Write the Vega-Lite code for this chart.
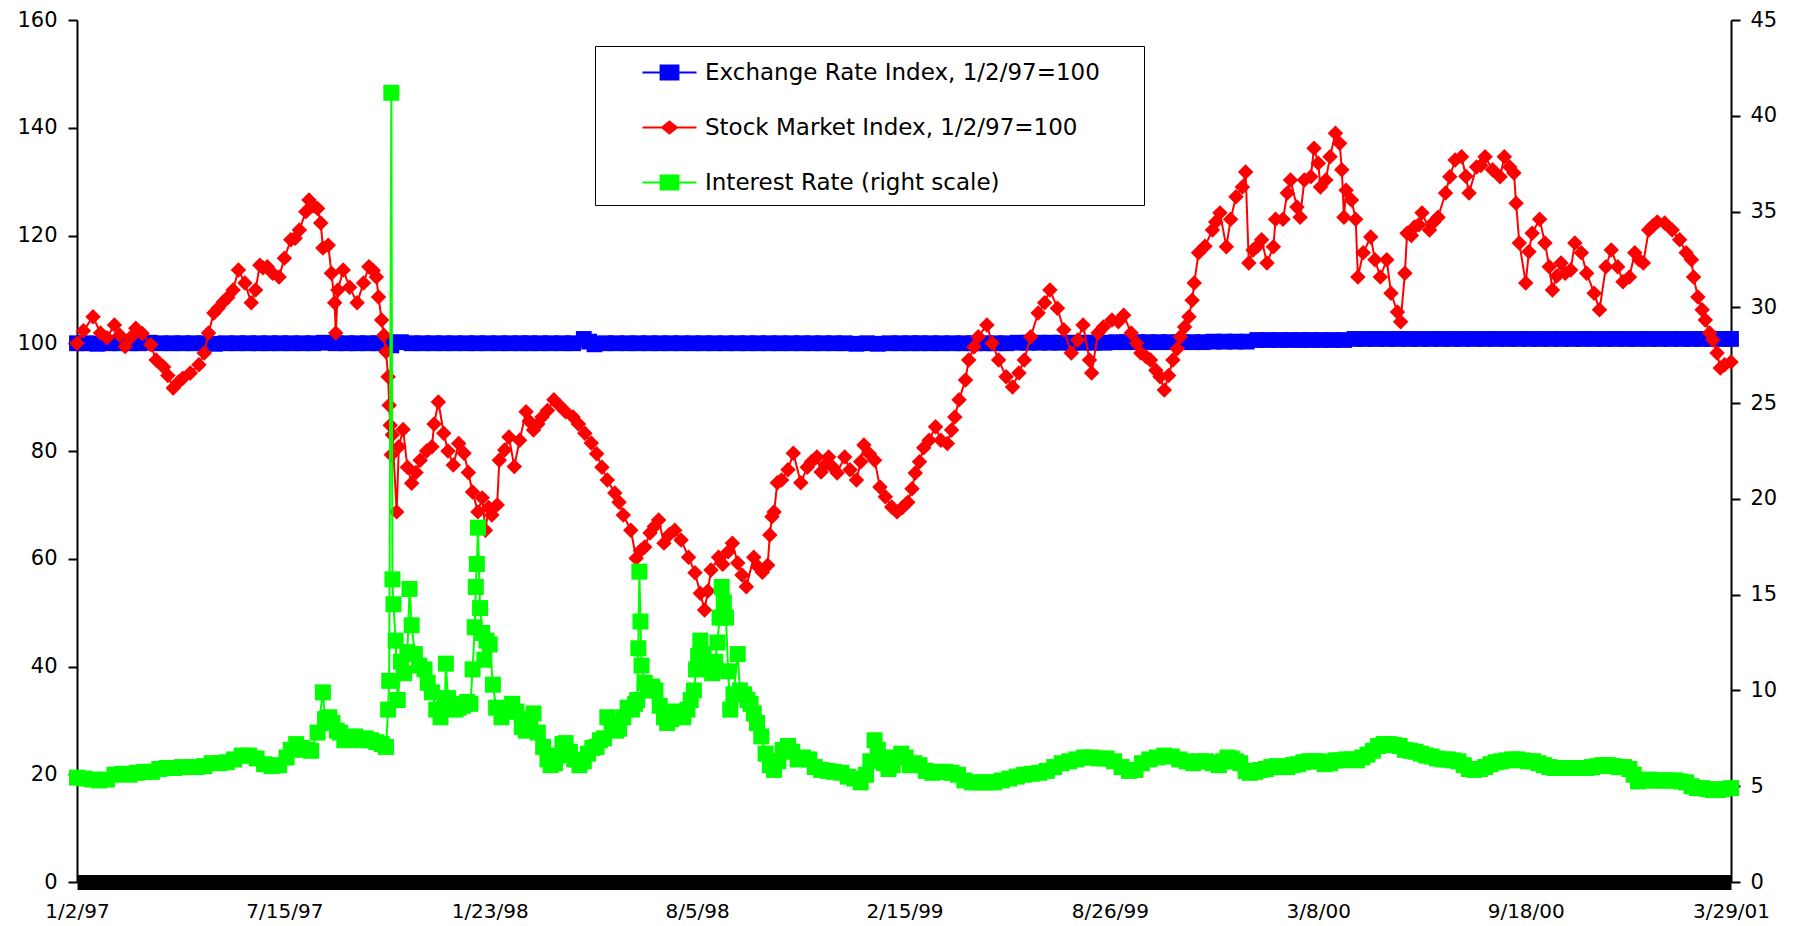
{
  "$schema": "https://vega.github.io/schema/vega-lite/v6.json",
  "width": 1654,
  "height": 862,
  "autosize": {"type": "none"},
  "padding": {"left": 77, "top": 20, "right": 62, "bottom": 44},
  "background": "white",
  "config": {"view": {"stroke": null}},
  "datasets": {
    "fx": [
      {"d":"1997-01-02","v":100},{"d":"1997-01-11","v":100},{"d":"1997-01-21","v":99.9},
      {"d":"1997-02-01","v":100},{"d":"1997-02-11","v":100},{"d":"1997-02-21","v":100},
      {"d":"1997-03-01","v":100},{"d":"1997-03-11","v":100.1},{"d":"1997-03-21","v":100},
      {"d":"1997-04-01","v":100},{"d":"1997-04-11","v":100},{"d":"1997-04-21","v":100},
      {"d":"1997-05-01","v":100},{"d":"1997-05-11","v":99.9},{"d":"1997-05-21","v":100},
      {"d":"1997-06-01","v":100},{"d":"1997-06-11","v":100},{"d":"1997-06-21","v":100},
      {"d":"1997-07-01","v":100},{"d":"1997-07-11","v":100},{"d":"1997-07-21","v":100},
      {"d":"1997-08-01","v":100},{"d":"1997-08-11","v":100},{"d":"1997-08-21","v":100.1},
      {"d":"1997-09-01","v":100},{"d":"1997-09-11","v":100},{"d":"1997-09-21","v":100},
      {"d":"1997-10-01","v":100},{"d":"1997-10-11","v":100},{"d":"1997-10-21","v":100.1},{"d":"1997-10-23","v":99.6},
      {"d":"1997-11-01","v":100.2},{"d":"1997-11-11","v":100},{"d":"1997-11-21","v":100},
      {"d":"1997-12-01","v":100},{"d":"1997-12-11","v":100},{"d":"1997-12-21","v":100},
      {"d":"1998-01-01","v":100},{"d":"1998-01-11","v":100},{"d":"1998-01-21","v":100},
      {"d":"1998-02-01","v":100},{"d":"1998-02-11","v":100},{"d":"1998-02-21","v":100},
      {"d":"1998-03-01","v":100},{"d":"1998-03-11","v":100},{"d":"1998-03-21","v":100},
      {"d":"1998-04-01","v":100},{"d":"1998-04-11","v":100},{"d":"1998-04-21","v":100.8},{"d":"1998-04-26","v":100.3},
      {"d":"1998-05-01","v":99.8},{"d":"1998-05-11","v":100},{"d":"1998-05-21","v":100},
      {"d":"1998-06-01","v":100},{"d":"1998-06-11","v":100},{"d":"1998-06-21","v":100},
      {"d":"1998-07-01","v":100},{"d":"1998-07-11","v":100},{"d":"1998-07-21","v":100},
      {"d":"1998-08-01","v":100},{"d":"1998-08-11","v":100},{"d":"1998-08-21","v":100},
      {"d":"1998-09-01","v":100},{"d":"1998-09-11","v":100},{"d":"1998-09-21","v":100},
      {"d":"1998-10-01","v":100},{"d":"1998-10-11","v":100},{"d":"1998-10-21","v":100},
      {"d":"1998-11-01","v":100},{"d":"1998-11-11","v":100},{"d":"1998-11-21","v":100},
      {"d":"1998-12-01","v":100},{"d":"1998-12-11","v":100},{"d":"1998-12-21","v":100},
      {"d":"1999-01-01","v":99.9},{"d":"1999-01-11","v":100},{"d":"1999-01-21","v":99.9},
      {"d":"1999-02-01","v":100},{"d":"1999-02-11","v":100},{"d":"1999-02-21","v":100},
      {"d":"1999-03-01","v":100},{"d":"1999-03-11","v":100},{"d":"1999-03-21","v":100},
      {"d":"1999-04-01","v":100},{"d":"1999-04-11","v":100},{"d":"1999-04-21","v":100},
      {"d":"1999-05-01","v":100},{"d":"1999-05-11","v":100},{"d":"1999-05-21","v":100},
      {"d":"1999-06-01","v":100.1},{"d":"1999-06-11","v":100.1},{"d":"1999-06-21","v":100.1},
      {"d":"1999-07-01","v":100.1},{"d":"1999-07-11","v":100.1},{"d":"1999-07-21","v":100.1},
      {"d":"1999-08-01","v":100.1},{"d":"1999-08-11","v":100.1},{"d":"1999-08-21","v":100.1},
      {"d":"1999-09-01","v":100.2},{"d":"1999-09-11","v":100.2},{"d":"1999-09-21","v":100.2},
      {"d":"1999-10-01","v":100.2},{"d":"1999-10-11","v":100.2},{"d":"1999-10-21","v":100.2},
      {"d":"1999-11-01","v":100.2},{"d":"1999-11-11","v":100.2},{"d":"1999-11-21","v":100.2},
      {"d":"1999-12-01","v":100.3},{"d":"1999-12-11","v":100.3},{"d":"1999-12-21","v":100.3},
      {"d":"2000-01-01","v":100.3},{"d":"2000-01-11","v":100.6},{"d":"2000-01-21","v":100.6},
      {"d":"2000-02-01","v":100.6},{"d":"2000-02-11","v":100.6},{"d":"2000-02-21","v":100.6},
      {"d":"2000-03-01","v":100.6},{"d":"2000-03-11","v":100.6},{"d":"2000-03-21","v":100.6},
      {"d":"2000-04-01","v":100.6},{"d":"2000-04-11","v":100.8},{"d":"2000-04-21","v":100.8},
      {"d":"2000-05-01","v":100.8},{"d":"2000-05-11","v":100.8},{"d":"2000-05-21","v":100.8},
      {"d":"2000-06-01","v":100.8},{"d":"2000-06-11","v":100.8},{"d":"2000-06-21","v":100.8},
      {"d":"2000-07-01","v":100.8},{"d":"2000-07-11","v":100.8},{"d":"2000-07-21","v":100.8},
      {"d":"2000-08-01","v":100.8},{"d":"2000-08-11","v":100.8},{"d":"2000-08-21","v":100.8},
      {"d":"2000-09-01","v":100.8},{"d":"2000-09-11","v":100.8},{"d":"2000-09-21","v":100.8},
      {"d":"2000-10-01","v":100.8},{"d":"2000-10-11","v":100.8},{"d":"2000-10-21","v":100.8},
      {"d":"2000-11-01","v":100.8},{"d":"2000-11-11","v":100.8},{"d":"2000-11-21","v":100.8},
      {"d":"2000-12-01","v":100.8},{"d":"2000-12-11","v":100.8},{"d":"2000-12-21","v":100.8},
      {"d":"2001-01-01","v":100.8},{"d":"2001-01-11","v":100.8},{"d":"2001-01-21","v":100.8},
      {"d":"2001-02-01","v":100.8},{"d":"2001-02-11","v":100.8},{"d":"2001-02-21","v":100.8},
      {"d":"2001-03-01","v":100.8},{"d":"2001-03-11","v":100.8},{"d":"2001-03-21","v":100.8},{"d":"2001-03-29","v":100.8}
    ],
    "stock": [
      {"d":"1997-01-02","v":100.0},{"d":"1997-01-08","v":102.3},{"d":"1997-01-17","v":104.9},{"d":"1997-01-24","v":101.9},
      {"d":"1997-01-30","v":101.0},{"d":"1997-02-06","v":103.4},{"d":"1997-02-11","v":101.5},{"d":"1997-02-16","v":99.4},
      {"d":"1997-02-21","v":101.0},{"d":"1997-02-26","v":102.8},{"d":"1997-03-04","v":101.8},{"d":"1997-03-12","v":99.7},
      {"d":"1997-03-17","v":96.9},{"d":"1997-03-24","v":95.6},{"d":"1997-03-28","v":94.0},{"d":"1997-04-02","v":91.7},
      {"d":"1997-04-07","v":92.8},{"d":"1997-04-11","v":93.5},{"d":"1997-04-18","v":94.5},{"d":"1997-04-26","v":96.0},
      {"d":"1997-05-01","v":98.2},{"d":"1997-05-05","v":101.9},{"d":"1997-05-10","v":105.6},{"d":"1997-05-14","v":106.5},
      {"d":"1997-05-19","v":107.7},{"d":"1997-05-23","v":108.5},{"d":"1997-05-28","v":109.9},{"d":"1997-06-02","v":113.6},
      {"d":"1997-06-08","v":111.2},{"d":"1997-06-14","v":107.5},{"d":"1997-06-18","v":109.9},{"d":"1997-06-22","v":114.5},
      {"d":"1997-06-25","v":114.0},{"d":"1997-06-29","v":114.2},{"d":"1997-07-04","v":113.0},{"d":"1997-07-10","v":112.3},
      {"d":"1997-07-15","v":115.8},{"d":"1997-07-21","v":119.2},{"d":"1997-07-25","v":119.5},{"d":"1997-07-29","v":121.0},
      {"d":"1997-08-04","v":124.4},{"d":"1997-08-07","v":126.6},{"d":"1997-08-11","v":125.5},{"d":"1997-08-15","v":125.0},
      {"d":"1997-08-18","v":122.3},{"d":"1997-08-20","v":117.7},{"d":"1997-08-25","v":118.2},{"d":"1997-08-28","v":113.0},
      {"d":"1997-08-31","v":107.5},{"d":"1997-09-01","v":101.9},{"d":"1997-09-03","v":109.9},{"d":"1997-09-08","v":113.6},
      {"d":"1997-09-14","v":110.4},{"d":"1997-09-21","v":107.5},{"d":"1997-09-27","v":111.2},{"d":"1997-10-02","v":114.2},
      {"d":"1997-10-06","v":113.5},{"d":"1997-10-09","v":112.3},{"d":"1997-10-11","v":108.6},{"d":"1997-10-14","v":104.3},
      {"d":"1997-10-16","v":101.5},{"d":"1997-10-18","v":98.4},{"d":"1997-10-20","v":93.8},{"d":"1997-10-21","v":88.5},
      {"d":"1997-10-22","v":84.8},{"d":"1997-10-23","v":79.3},{"d":"1997-10-24","v":83.0},{"d":"1997-10-28","v":68.7},
      {"d":"1997-10-30","v":80.8},{"d":"1997-11-03","v":84.0},{"d":"1997-11-07","v":77.0},{"d":"1997-11-11","v":74.0},
      {"d":"1997-11-15","v":76.0},{"d":"1997-11-19","v":78.3},{"d":"1997-11-25","v":80.0},{"d":"1997-11-30","v":80.8},
      {"d":"1997-12-02","v":85.0},{"d":"1997-12-06","v":89.1},{"d":"1997-12-11","v":83.3},{"d":"1997-12-15","v":80.0},
      {"d":"1997-12-20","v":77.4},{"d":"1997-12-25","v":81.4},{"d":"1997-12-30","v":79.6},{"d":"1998-01-03","v":76.0},
      {"d":"1998-01-07","v":72.4},{"d":"1998-01-12","v":68.7},{"d":"1998-01-16","v":71.3},{"d":"1998-01-19","v":65.3},
      {"d":"1998-01-22","v":69.5},{"d":"1998-01-25","v":68.1},{"d":"1998-01-30","v":70.0},{"d":"1998-02-01","v":78.3},
      {"d":"1998-02-06","v":80.2},{"d":"1998-02-10","v":82.6},{"d":"1998-02-15","v":77.1},{"d":"1998-02-20","v":82.0},
      {"d":"1998-02-26","v":87.3},{"d":"1998-03-01","v":85.5},{"d":"1998-03-05","v":83.9},{"d":"1998-03-09","v":85.0},
      {"d":"1998-03-13","v":86.3},{"d":"1998-03-18","v":87.5},{"d":"1998-03-24","v":89.5},{"d":"1998-03-29","v":88.5},
      {"d":"1998-04-04","v":87.3},{"d":"1998-04-11","v":86.3},{"d":"1998-04-16","v":85.0},{"d":"1998-04-22","v":83.3},
      {"d":"1998-04-28","v":81.5},{"d":"1998-05-03","v":79.5},{"d":"1998-05-08","v":77.0},{"d":"1998-05-13","v":74.6},
      {"d":"1998-05-20","v":72.2},{"d":"1998-05-24","v":70.5},{"d":"1998-05-28","v":68.1},{"d":"1998-06-04","v":65.3},
      {"d":"1998-06-09","v":60.1},{"d":"1998-06-13","v":61.5},{"d":"1998-06-17","v":62.2},{"d":"1998-06-22","v":64.8},
      {"d":"1998-06-26","v":66.0},{"d":"1998-06-30","v":67.2},{"d":"1998-07-05","v":62.9},{"d":"1998-07-10","v":64.5},
      {"d":"1998-07-15","v":65.3},{"d":"1998-07-21","v":63.5},{"d":"1998-07-28","v":60.3},{"d":"1998-08-03","v":57.4},
      {"d":"1998-08-08","v":53.6},{"d":"1998-08-12","v":50.5},{"d":"1998-08-15","v":54.0},{"d":"1998-08-18","v":57.9},
      {"d":"1998-08-25","v":60.3},{"d":"1998-08-29","v":59.0},{"d":"1998-09-03","v":61.3},{"d":"1998-09-07","v":62.9},
      {"d":"1998-09-12","v":59.2},{"d":"1998-09-16","v":57.0},{"d":"1998-09-20","v":54.8},{"d":"1998-09-27","v":60.3},
      {"d":"1998-10-01","v":58.5},{"d":"1998-10-05","v":57.5},{"d":"1998-10-10","v":58.8},{"d":"1998-10-12","v":64.4},
      {"d":"1998-10-14","v":67.8},{"d":"1998-10-16","v":68.7},{"d":"1998-10-19","v":74.1},{"d":"1998-10-23","v":74.6},
      {"d":"1998-10-29","v":76.5},{"d":"1998-11-03","v":79.6},{"d":"1998-11-10","v":74.1},{"d":"1998-11-16","v":77.0},
      {"d":"1998-11-20","v":78.0},{"d":"1998-11-25","v":78.9},{"d":"1998-11-29","v":76.1},{"d":"1998-12-03","v":77.5},
      {"d":"1998-12-06","v":78.9},{"d":"1998-12-10","v":77.0},{"d":"1998-12-14","v":75.9},{"d":"1998-12-21","v":78.9},
      {"d":"1998-12-26","v":76.5},{"d":"1999-01-01","v":74.6},{"d":"1999-01-05","v":78.0},{"d":"1999-01-08","v":81.1},
      {"d":"1999-01-13","v":79.5},{"d":"1999-01-18","v":78.3},{"d":"1999-01-23","v":73.3},{"d":"1999-01-28","v":71.5},
      {"d":"1999-02-03","v":69.6},{"d":"1999-02-08","v":68.7},{"d":"1999-02-13","v":69.5},{"d":"1999-02-18","v":70.5},
      {"d":"1999-02-22","v":73.0},{"d":"1999-02-25","v":75.9},{"d":"1999-03-01","v":78.0},{"d":"1999-03-05","v":80.6},
      {"d":"1999-03-10","v":82.0},{"d":"1999-03-16","v":84.5},{"d":"1999-03-21","v":82.0},{"d":"1999-03-27","v":81.4},
      {"d":"1999-03-31","v":83.9},{"d":"1999-04-03","v":86.3},{"d":"1999-04-07","v":89.5},{"d":"1999-04-13","v":93.2},
      {"d":"1999-04-16","v":96.9},{"d":"1999-04-21","v":99.3},{"d":"1999-04-25","v":101.2},{"d":"1999-05-03","v":103.4},
      {"d":"1999-05-08","v":100.0},{"d":"1999-05-14","v":96.9},{"d":"1999-05-21","v":93.8},{"d":"1999-05-27","v":91.9},
      {"d":"1999-06-02","v":94.5},{"d":"1999-06-07","v":96.9},{"d":"1999-06-13","v":101.2},{"d":"1999-06-20","v":105.6},
      {"d":"1999-06-26","v":107.5},{"d":"1999-07-01","v":109.9},{"d":"1999-07-08","v":106.5},{"d":"1999-07-14","v":102.5},
      {"d":"1999-07-21","v":98.2},{"d":"1999-07-27","v":100.6},{"d":"1999-08-01","v":103.4},{"d":"1999-08-07","v":96.9},
      {"d":"1999-08-09","v":94.5},{"d":"1999-08-15","v":101.9},{"d":"1999-08-20","v":103.0},{"d":"1999-08-28","v":104.3},
      {"d":"1999-09-03","v":104.0},{"d":"1999-09-08","v":105.2},{"d":"1999-09-15","v":101.9},{"d":"1999-09-20","v":100.0},
      {"d":"1999-09-24","v":98.2},{"d":"1999-09-29","v":97.5},{"d":"1999-10-03","v":96.9},{"d":"1999-10-08","v":95.0},
      {"d":"1999-10-12","v":93.8},{"d":"1999-10-16","v":91.3},{"d":"1999-10-20","v":94.0},{"d":"1999-10-24","v":96.9},
      {"d":"1999-10-28","v":99.0},{"d":"1999-10-31","v":101.2},{"d":"1999-11-04","v":103.0},{"d":"1999-11-08","v":104.9},
      {"d":"1999-11-11","v":108.0},{"d":"1999-11-13","v":111.2},{"d":"1999-11-17","v":116.8},{"d":"1999-11-23","v":118.0},
      {"d":"1999-11-30","v":121.0},{"d":"1999-12-03","v":122.5},{"d":"1999-12-07","v":124.2},{"d":"1999-12-13","v":117.9},
      {"d":"1999-12-17","v":123.0},{"d":"1999-12-22","v":127.2},{"d":"1999-12-28","v":129.0},{"d":"1999-12-31","v":131.8},
      {"d":"2000-01-03","v":114.9},{"d":"2000-01-07","v":117.3},{"d":"2000-01-11","v":118.0},{"d":"2000-01-15","v":119.2},
      {"d":"2000-01-20","v":114.9},{"d":"2000-01-26","v":117.9},{"d":"2000-01-28","v":123.0},{"d":"2000-02-04","v":123.0},
      {"d":"2000-02-08","v":127.9},{"d":"2000-02-11","v":130.3},{"d":"2000-02-17","v":125.3},{"d":"2000-02-20","v":123.4},
      {"d":"2000-02-24","v":130.3},{"d":"2000-03-01","v":130.9},{"d":"2000-03-04","v":136.2},{"d":"2000-03-08","v":133.4},
      {"d":"2000-03-10","v":129.0},{"d":"2000-03-15","v":130.3},{"d":"2000-03-19","v":134.6},{"d":"2000-03-24","v":139.0},
      {"d":"2000-03-28","v":137.1},{"d":"2000-03-30","v":132.2},{"d":"2000-04-01","v":123.4},{"d":"2000-04-03","v":128.4},
      {"d":"2000-04-08","v":126.6},{"d":"2000-04-12","v":123.0},{"d":"2000-04-14","v":112.3},{"d":"2000-04-19","v":116.8},
      {"d":"2000-04-26","v":119.7},{"d":"2000-04-30","v":115.5},{"d":"2000-05-05","v":112.3},{"d":"2000-05-11","v":115.5},
      {"d":"2000-05-15","v":109.3},{"d":"2000-05-21","v":105.8},{"d":"2000-05-24","v":104.0},{"d":"2000-05-28","v":113.0},
      {"d":"2000-05-30","v":120.4},{"d":"2000-06-03","v":120.0},{"d":"2000-06-06","v":121.6},{"d":"2000-06-10","v":122.0},
      {"d":"2000-06-13","v":124.2},{"d":"2000-06-20","v":121.0},{"d":"2000-06-24","v":122.5},{"d":"2000-06-28","v":123.4},
      {"d":"2000-07-05","v":127.9},{"d":"2000-07-09","v":130.9},{"d":"2000-07-14","v":134.0},{"d":"2000-07-20","v":134.6},
      {"d":"2000-07-24","v":131.0},{"d":"2000-07-27","v":127.9},{"d":"2000-08-03","v":132.7},{"d":"2000-08-07","v":133.0},
      {"d":"2000-08-11","v":134.6},{"d":"2000-08-18","v":132.2},{"d":"2000-08-25","v":130.9},{"d":"2000-08-29","v":134.6},
      {"d":"2000-09-03","v":132.7},{"d":"2000-09-07","v":131.6},{"d":"2000-09-09","v":126.0},{"d":"2000-09-12","v":118.6},
      {"d":"2000-09-18","v":111.2},{"d":"2000-09-21","v":117.0},{"d":"2000-09-24","v":120.4},{"d":"2000-10-01","v":123.0},
      {"d":"2000-10-06","v":118.6},{"d":"2000-10-10","v":114.2},{"d":"2000-10-13","v":109.9},{"d":"2000-10-17","v":112.5},
      {"d":"2000-10-21","v":114.9},{"d":"2000-10-25","v":113.0},{"d":"2000-10-30","v":113.6},{"d":"2000-11-03","v":118.6},
      {"d":"2000-11-09","v":116.8},{"d":"2000-11-14","v":113.0},{"d":"2000-11-21","v":109.3},{"d":"2000-11-26","v":106.2},
      {"d":"2000-12-02","v":114.2},{"d":"2000-12-07","v":117.3},{"d":"2000-12-13","v":114.2},{"d":"2000-12-18","v":111.4},
      {"d":"2000-12-24","v":112.3},{"d":"2000-12-29","v":116.8},{"d":"2001-01-02","v":115.5},{"d":"2001-01-06","v":114.9},
      {"d":"2001-01-11","v":121.0},{"d":"2001-01-15","v":121.8},{"d":"2001-01-19","v":122.5},{"d":"2001-01-26","v":122.3},
      {"d":"2001-02-02","v":121.0},{"d":"2001-02-09","v":119.2},{"d":"2001-02-15","v":116.8},{"d":"2001-02-20","v":115.5},
      {"d":"2001-02-22","v":112.3},{"d":"2001-02-26","v":108.6},{"d":"2001-03-02","v":106.2},{"d":"2001-03-05","v":104.3},
      {"d":"2001-03-09","v":101.9},{"d":"2001-03-12","v":100.6},{"d":"2001-03-16","v":98.2},{"d":"2001-03-19","v":95.4},
      {"d":"2001-03-23","v":96.0},{"d":"2001-03-29","v":96.5}
    ],
    "rate": [
      {"d":"1997-01-02","v":5.45},{"d":"1997-01-09","v":5.4},{"d":"1997-01-16","v":5.35},{"d":"1997-01-23","v":5.3},
      {"d":"1997-01-30","v":5.35},{"d":"1997-02-06","v":5.6},{"d":"1997-02-13","v":5.65},{"d":"1997-02-20","v":5.6},
      {"d":"1997-02-27","v":5.7},{"d":"1997-03-06","v":5.75},{"d":"1997-03-13","v":5.75},{"d":"1997-03-20","v":5.9},
      {"d":"1997-03-27","v":5.95},{"d":"1997-04-03","v":5.95},{"d":"1997-04-10","v":6.0},{"d":"1997-04-17","v":6.0},
      {"d":"1997-04-24","v":6.0},{"d":"1997-05-01","v":6.05},{"d":"1997-05-08","v":6.2},{"d":"1997-05-15","v":6.2},
      {"d":"1997-05-22","v":6.25},{"d":"1997-05-29","v":6.4},{"d":"1997-06-05","v":6.6},{"d":"1997-06-12","v":6.6},
      {"d":"1997-06-19","v":6.45},{"d":"1997-06-26","v":6.15},{"d":"1997-07-03","v":6.05},{"d":"1997-07-10","v":6.1},
      {"d":"1997-07-17","v":6.5},{"d":"1997-07-21","v":6.9},{"d":"1997-07-26","v":7.2},{"d":"1997-07-31","v":7.0},
      {"d":"1997-08-04","v":6.9},{"d":"1997-08-09","v":6.85},{"d":"1997-08-15","v":7.8},{"d":"1997-08-20","v":9.9},
      {"d":"1997-08-22","v":8.5},{"d":"1997-08-26","v":8.6},{"d":"1997-08-29","v":8.3},{"d":"1997-09-02","v":7.9},
      {"d":"1997-09-05","v":7.8},{"d":"1997-09-09","v":7.4},{"d":"1997-09-14","v":7.5},{"d":"1997-09-19","v":7.6},
      {"d":"1997-09-24","v":7.4},{"d":"1997-09-29","v":7.5},{"d":"1997-10-04","v":7.4},{"d":"1997-10-09","v":7.3},
      {"d":"1997-10-14","v":7.2},{"d":"1997-10-18","v":7.05},{"d":"1997-10-20","v":9.0},{"d":"1997-10-21","v":10.5},
      {"d":"1997-10-23","v":41.2},{"d":"1997-10-24","v":15.8},{"d":"1997-10-25","v":14.5},{"d":"1997-10-27","v":12.6},
      {"d":"1997-10-29","v":9.5},{"d":"1997-11-01","v":11.5},{"d":"1997-11-04","v":10.9},{"d":"1997-11-07","v":12.0},
      {"d":"1997-11-09","v":15.3},{"d":"1997-11-11","v":13.4},{"d":"1997-11-14","v":11.9},{"d":"1997-11-18","v":11.3},
      {"d":"1997-11-23","v":11.1},{"d":"1997-11-26","v":10.4},{"d":"1997-11-30","v":9.9},{"d":"1997-12-04","v":9.0},
      {"d":"1997-12-08","v":8.6},{"d":"1997-12-12","v":9.2},{"d":"1997-12-13","v":11.4},{"d":"1997-12-15","v":9.6},
      {"d":"1997-12-18","v":9.3},{"d":"1997-12-22","v":9.0},{"d":"1997-12-25","v":9.1},{"d":"1997-12-29","v":9.2},
      {"d":"1998-01-02","v":9.4},{"d":"1998-01-05","v":9.3},{"d":"1998-01-07","v":11.1},{"d":"1998-01-09","v":13.3},
      {"d":"1998-01-10","v":15.4},{"d":"1998-01-11","v":16.6},{"d":"1998-01-12","v":18.5},{"d":"1998-01-14","v":14.3},
      {"d":"1998-01-16","v":13.0},{"d":"1998-01-18","v":11.6},{"d":"1998-01-20","v":12.6},{"d":"1998-01-23","v":12.4},
      {"d":"1998-01-26","v":10.3},{"d":"1998-01-29","v":9.1},{"d":"1998-02-03","v":8.6},{"d":"1998-02-08","v":8.9},
      {"d":"1998-02-13","v":9.3},{"d":"1998-02-17","v":8.9},{"d":"1998-02-22","v":8.1},{"d":"1998-02-26","v":7.9},
      {"d":"1998-03-02","v":8.5},{"d":"1998-03-05","v":8.8},{"d":"1998-03-09","v":7.8},{"d":"1998-03-14","v":7.05},
      {"d":"1998-03-18","v":6.4},{"d":"1998-03-21","v":6.1},{"d":"1998-03-25","v":6.2},{"d":"1998-03-28","v":6.6},
      {"d":"1998-04-01","v":7.2},{"d":"1998-04-04","v":7.25},{"d":"1998-04-08","v":6.8},{"d":"1998-04-12","v":6.4},
      {"d":"1998-04-17","v":6.1},{"d":"1998-04-21","v":6.3},{"d":"1998-04-25","v":6.7},{"d":"1998-04-29","v":7.0},
      {"d":"1998-05-03","v":7.05},{"d":"1998-05-06","v":7.4},{"d":"1998-05-10","v":7.5},{"d":"1998-05-13","v":8.6},
      {"d":"1998-05-17","v":8.2},{"d":"1998-05-21","v":7.9},{"d":"1998-05-24","v":8.0},{"d":"1998-05-28","v":8.6},
      {"d":"1998-06-01","v":9.1},{"d":"1998-06-05","v":9.0},{"d":"1998-06-08","v":9.3},{"d":"1998-06-10","v":9.5},
      {"d":"1998-06-11","v":12.2},{"d":"1998-06-12","v":16.2},{"d":"1998-06-13","v":13.6},{"d":"1998-06-14","v":11.3},
      {"d":"1998-06-17","v":10.4},{"d":"1998-06-20","v":10.0},{"d":"1998-06-24","v":10.2},{"d":"1998-06-27","v":10.0},
      {"d":"1998-07-01","v":9.2},{"d":"1998-07-05","v":8.6},{"d":"1998-07-08","v":8.3},{"d":"1998-07-12","v":8.5},
      {"d":"1998-07-16","v":8.9},{"d":"1998-07-19","v":8.8},{"d":"1998-07-23","v":8.6},{"d":"1998-07-27","v":9.0},
      {"d":"1998-07-30","v":9.5},{"d":"1998-08-02","v":10.0},{"d":"1998-08-04","v":11.1},{"d":"1998-08-06","v":11.8},
      {"d":"1998-08-08","v":12.6},{"d":"1998-08-11","v":11.9},{"d":"1998-08-14","v":11.4},{"d":"1998-08-17","v":11.3},
      {"d":"1998-08-19","v":10.9},{"d":"1998-08-22","v":11.5},{"d":"1998-08-24","v":12.5},{"d":"1998-08-26","v":13.8},
      {"d":"1998-08-28","v":15.4},{"d":"1998-08-30","v":14.6},{"d":"1998-09-01","v":13.8},{"d":"1998-09-03","v":11.0},
      {"d":"1998-09-05","v":9.0},{"d":"1998-09-08","v":9.8},{"d":"1998-09-12","v":11.9},{"d":"1998-09-14","v":10.0},
      {"d":"1998-09-18","v":9.8},{"d":"1998-09-21","v":9.5},{"d":"1998-09-24","v":9.3},{"d":"1998-09-27","v":8.8},
      {"d":"1998-09-30","v":8.3},{"d":"1998-10-04","v":7.6},{"d":"1998-10-08","v":6.7},{"d":"1998-10-12","v":6.1},
      {"d":"1998-10-16","v":5.85},{"d":"1998-10-20","v":6.3},{"d":"1998-10-24","v":6.9},{"d":"1998-10-29","v":7.1},
      {"d":"1998-11-02","v":6.8},{"d":"1998-11-07","v":6.4},{"d":"1998-11-12","v":6.5},{"d":"1998-11-18","v":6.4},
      {"d":"1998-11-23","v":6.0},{"d":"1998-11-29","v":5.85},{"d":"1998-12-05","v":5.8},{"d":"1998-12-11","v":5.75},
      {"d":"1998-12-18","v":5.7},{"d":"1998-12-24","v":5.5},{"d":"1998-12-30","v":5.4},{"d":"1999-01-05","v":5.2},
      {"d":"1999-01-10","v":5.6},{"d":"1999-01-14","v":6.3},{"d":"1999-01-18","v":7.4},{"d":"1999-01-21","v":6.9},
      {"d":"1999-01-24","v":6.5},{"d":"1999-01-27","v":6.2},{"d":"1999-01-31","v":5.9},{"d":"1999-02-04","v":6.1},
      {"d":"1999-02-08","v":6.5},{"d":"1999-02-12","v":6.7},{"d":"1999-02-16","v":6.5},{"d":"1999-02-20","v":6.1},
      {"d":"1999-02-24","v":6.2},{"d":"1999-03-01","v":6.1},{"d":"1999-03-07","v":5.8},{"d":"1999-03-13","v":5.7},
      {"d":"1999-03-19","v":5.75},{"d":"1999-03-25","v":5.75},{"d":"1999-03-31","v":5.7},{"d":"1999-04-06","v":5.6},
      {"d":"1999-04-12","v":5.3},{"d":"1999-04-19","v":5.2},{"d":"1999-04-26","v":5.2},{"d":"1999-05-03","v":5.2},
      {"d":"1999-05-10","v":5.2},{"d":"1999-05-17","v":5.3},{"d":"1999-05-24","v":5.4},{"d":"1999-05-31","v":5.5},
      {"d":"1999-06-07","v":5.6},{"d":"1999-06-14","v":5.65},{"d":"1999-06-21","v":5.7},{"d":"1999-06-28","v":5.8},
      {"d":"1999-07-05","v":6.0},{"d":"1999-07-12","v":6.2},{"d":"1999-07-19","v":6.3},{"d":"1999-07-26","v":6.4},
      {"d":"1999-08-02","v":6.5},{"d":"1999-08-09","v":6.5},{"d":"1999-08-16","v":6.45},{"d":"1999-08-23","v":6.45},
      {"d":"1999-08-30","v":6.3},{"d":"1999-09-06","v":6.0},{"d":"1999-09-13","v":5.8},{"d":"1999-09-19","v":5.85},
      {"d":"1999-09-25","v":6.2},{"d":"1999-10-02","v":6.4},{"d":"1999-10-09","v":6.5},{"d":"1999-10-16","v":6.6},
      {"d":"1999-10-23","v":6.55},{"d":"1999-10-30","v":6.4},{"d":"1999-11-06","v":6.3},{"d":"1999-11-12","v":6.2},
      {"d":"1999-11-18","v":6.3},{"d":"1999-11-24","v":6.3},{"d":"1999-11-30","v":6.2},{"d":"1999-12-06","v":6.1},
      {"d":"1999-12-10","v":6.3},{"d":"1999-12-14","v":6.5},{"d":"1999-12-18","v":6.45},{"d":"1999-12-22","v":6.3},
      {"d":"1999-12-26","v":6.2},{"d":"1999-12-31","v":5.8},{"d":"2000-01-04","v":5.7},{"d":"2000-01-09","v":5.75},
      {"d":"2000-01-14","v":5.85},{"d":"2000-01-19","v":5.9},{"d":"2000-01-24","v":6.0},{"d":"2000-01-29","v":6.05},
      {"d":"2000-02-03","v":6.0},{"d":"2000-02-08","v":6.0},{"d":"2000-02-13","v":6.1},{"d":"2000-02-18","v":6.15},
      {"d":"2000-02-23","v":6.25},{"d":"2000-02-28","v":6.3},{"d":"2000-03-04","v":6.3},{"d":"2000-03-09","v":6.3},
      {"d":"2000-03-14","v":6.15},{"d":"2000-03-19","v":6.2},{"d":"2000-03-24","v":6.35},{"d":"2000-03-29","v":6.35},
      {"d":"2000-04-03","v":6.4},{"d":"2000-04-08","v":6.4},{"d":"2000-04-13","v":6.35},{"d":"2000-04-18","v":6.5},
      {"d":"2000-04-23","v":6.65},{"d":"2000-04-28","v":6.85},{"d":"2000-05-03","v":7.1},{"d":"2000-05-08","v":7.2},
      {"d":"2000-05-13","v":7.2},{"d":"2000-05-18","v":7.15},{"d":"2000-05-23","v":7.1},{"d":"2000-05-28","v":6.9},
      {"d":"2000-06-02","v":6.85},{"d":"2000-06-07","v":6.8},{"d":"2000-06-12","v":6.7},{"d":"2000-06-17","v":6.6},
      {"d":"2000-06-22","v":6.55},{"d":"2000-06-27","v":6.45},{"d":"2000-07-02","v":6.4},{"d":"2000-07-07","v":6.4},
      {"d":"2000-07-12","v":6.35},{"d":"2000-07-17","v":6.3},{"d":"2000-07-22","v":6.1},{"d":"2000-07-27","v":5.9},
      {"d":"2000-08-01","v":5.85},{"d":"2000-08-06","v":5.9},{"d":"2000-08-11","v":6.0},{"d":"2000-08-16","v":6.15},
      {"d":"2000-08-21","v":6.25},{"d":"2000-08-26","v":6.3},{"d":"2000-08-31","v":6.35},{"d":"2000-09-05","v":6.4},
      {"d":"2000-09-10","v":6.4},{"d":"2000-09-15","v":6.35},{"d":"2000-09-20","v":6.3},{"d":"2000-09-25","v":6.3},
      {"d":"2000-09-30","v":6.2},{"d":"2000-10-05","v":6.1},{"d":"2000-10-10","v":6.0},{"d":"2000-10-15","v":5.95},
      {"d":"2000-10-20","v":5.95},{"d":"2000-10-25","v":5.95},{"d":"2000-10-30","v":5.95},{"d":"2000-11-04","v":5.95},
      {"d":"2000-11-09","v":5.95},{"d":"2000-11-14","v":5.95},{"d":"2000-11-19","v":6.0},{"d":"2000-11-24","v":6.05},
      {"d":"2000-11-29","v":6.1},{"d":"2000-12-04","v":6.1},{"d":"2000-12-09","v":6.05},{"d":"2000-12-14","v":6.0},
      {"d":"2000-12-19","v":6.0},{"d":"2000-12-24","v":5.9},{"d":"2000-12-28","v":5.6},{"d":"2001-01-01","v":5.25},
      {"d":"2001-01-06","v":5.3},{"d":"2001-01-11","v":5.35},{"d":"2001-01-16","v":5.3},{"d":"2001-01-21","v":5.3},
      {"d":"2001-01-26","v":5.3},{"d":"2001-01-31","v":5.3},{"d":"2001-02-05","v":5.3},{"d":"2001-02-10","v":5.25},
      {"d":"2001-02-15","v":5.2},{"d":"2001-02-20","v":5.0},{"d":"2001-02-25","v":4.9},{"d":"2001-03-02","v":4.9},
      {"d":"2001-03-07","v":4.85},{"d":"2001-03-12","v":4.8},{"d":"2001-03-17","v":4.8},{"d":"2001-03-22","v":4.85},
      {"d":"2001-03-29","v":4.9}
    ]
  },
  "encoding": {
    "x": {
      "field": "d",
      "type": "temporal",
      "scale": {
        "type": "utc",
        "domain": [{"year": 1997, "month": 1, "date": 2, "utc": true}, {"year": 2001, "month": 3, "date": 29, "utc": true}],
        "nice": false
      },
      "axis": {
        "values": [
          {"year": 1997, "month": 1, "date": 2, "utc": true},
          {"year": 1997, "month": 7, "date": 15, "utc": true},
          {"year": 1998, "month": 1, "date": 23, "utc": true},
          {"year": 1998, "month": 8, "date": 5, "utc": true},
          {"year": 1999, "month": 2, "date": 15, "utc": true},
          {"year": 1999, "month": 8, "date": 26, "utc": true},
          {"year": 2000, "month": 3, "date": 8, "utc": true},
          {"year": 2000, "month": 9, "date": 18, "utc": true},
          {"year": 2001, "month": 3, "date": 29, "utc": true}
        ],
        "labelExpr": "utcFormat(datum.value, '%-m/%-d/%y')",
        "title": null,
        "grid": false,
        "ticks": false,
        "domainColor": "#000000",
        "domainWidth": 15,
        "labelPadding": 19,
        "labelFont": "DejaVu Sans",
        "labelFontSize": 20,
        "labelColor": "#000000",
        "labelFlush": false,
        "labelOverlap": false,
        "labelBound": false
      }
    }
  },
  "layer": [
    {
      "encoding": {
        "y": {
          "field": "v",
          "type": "quantitative",
          "scale": {"domain": [0, 160], "nice": false, "zero": false},
          "axis": {
            "orient": "left",
            "values": [0, 20, 40, 60, 80, 100, 120, 140, 160],
            "title": null,
            "grid": false,
            "domainColor": "#000000",
            "domainWidth": 2,
            "tickColor": "#000000",
            "tickWidth": 2,
            "tickSize": 9,
            "labelPadding": 11,
            "labelFont": "DejaVu Sans",
            "labelFontSize": 21,
            "labelColor": "#000000"
          }
        }
      },
      "layer": [
        {
          "data": {"name": "fx"},
          "mark": {"type": "line", "color": "#0000ff", "strokeWidth": 2}
        },
        {
          "data": {"name": "fx"},
          "mark": {"type": "point", "shape": "square", "filled": true, "size": 250, "opacity": 1},
          "encoding": {
            "color": {
              "datum": "Exchange Rate Index, 1/2/97=100",
              "type": "nominal",
              "scale": {
                "domain": ["Exchange Rate Index, 1/2/97=100", "Stock Market Index, 1/2/97=100", "Interest Rate (right scale)"],
                "range": ["#0000ff", "#ff0000", "#00ff00"]
              },
              "legend": {
                "title": null,
                "orient": "none",
                "legendX": 518,
                "legendY": 26,
                "padding": 0,
                "rowPadding": 3,
                "symbolOffset": 48,
                "labelOffset": 9,
                "symbolSize": 2601,
                "symbolStrokeWidth": 2,
                "symbolOpacity": 1,
                "labelFont": "DejaVu Sans",
                "labelFontSize": 23,
                "labelColor": "#000000",
                "labelLimit": 2000,
                "labelExpr": "datum.label + '\u00a0\u00a0\u00a0\u00a0\u00a0\u00a0\u200b'",
                "strokeColor": "#000000",
                "fillColor": "#ffffff",
                "encode": {
                  "symbols": {
                    "update": {
                      "shape": {"signal": "indexof(datum.label, 'Stock') === 0 ? 'M0,-1M0,0.7M-1.06,0H1.06M0,-0.23L0.29,0L0,0.23L-0.29,0Z' : 'M0,-1M0,0.7M-1.06,0H1.06M-0.35,-0.27H0.35V0.27H-0.35Z'"},
                      "fill": {"scale": "color", "field": "value"},
                      "stroke": {"scale": "color", "field": "value"}
                    }
                  }
                }
              }
            }
          }
        },
        {
          "data": {"name": "stock"},
          "mark": {"type": "line", "color": "#ff0000", "strokeWidth": 2}
        },
        {
          "data": {"name": "stock"},
          "mark": {"type": "point", "shape": "diamond", "filled": true, "size": 240, "opacity": 1},
          "encoding": {
            "color": {"datum": "Stock Market Index, 1/2/97=100", "type": "nominal"}
          }
        }
      ]
    },
    {
      "encoding": {
        "y": {
          "field": "v",
          "type": "quantitative",
          "scale": {"domain": [0, 45], "nice": false, "zero": false},
          "axis": {
            "orient": "right",
            "values": [0, 5, 10, 15, 20, 25, 30, 35, 40, 45],
            "title": null,
            "grid": false,
            "domainColor": "#000000",
            "domainWidth": 2,
            "tickColor": "#000000",
            "tickWidth": 2,
            "tickSize": 9,
            "labelPadding": 10,
            "labelFont": "DejaVu Sans",
            "labelFontSize": 21,
            "labelColor": "#000000"
          }
        }
      },
      "layer": [
        {
          "data": {"name": "rate"},
          "mark": {"type": "line", "color": "#00ff00", "strokeWidth": 2}
        },
        {
          "data": {"name": "rate"},
          "mark": {"type": "point", "shape": "square", "filled": true, "size": 256, "opacity": 1},
          "encoding": {
            "color": {"datum": "Interest Rate (right scale)", "type": "nominal"}
          }
        }
      ]
    }
  ],
  "resolve": {"scale": {"y": "independent"}}
}
